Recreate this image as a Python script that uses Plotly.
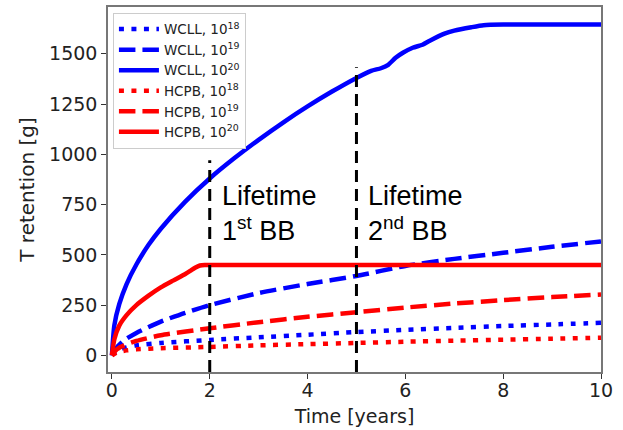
import plotly.graph_objects as go

# ---- data ----
t_wcll20 = [0, 0.05, 0.15, 0.3, 0.5, 0.75, 1.0, 1.5, 2.0, 2.5, 3.0, 3.5, 4.0, 4.5, 5.0, 5.3, 5.5, 5.65, 5.8, 5.95, 6.15, 6.35, 6.5, 6.8, 7.0, 7.35, 7.6, 8.0, 9.0, 10.0]
v_wcll20 = [0, 150, 255, 355, 452, 550, 630, 765, 880, 980, 1072, 1158, 1238, 1312, 1380, 1415, 1428, 1445, 1480, 1505, 1530, 1545, 1565, 1600, 1615, 1632, 1642, 1645, 1645, 1645]

t_wcll19 = [0, 0.1, 0.25, 0.5, 1, 1.5, 2, 3, 4, 5, 6, 7, 8, 9, 10]
v_wcll19 = [0, 40, 75, 112, 168, 212, 250, 310, 355, 395, 445, 480, 510, 540, 567]

t_wcll18 = [0, 0.1, 0.3, 0.5, 1, 2, 3, 4, 5, 6, 7, 8, 9, 10]
v_wcll18 = [0, 25, 40, 50, 62, 77, 90, 103, 116, 127, 137, 146, 154, 162]

t_hcpb20 = [0, 0.05, 0.15, 0.3, 0.5, 0.75, 1.0, 1.25, 1.5, 1.6, 1.7, 1.8, 1.9, 2.0, 5.0, 10.0]
v_hcpb20 = [0, 80, 148, 200, 250, 297, 338, 372, 405, 420, 436, 447, 450, 450, 450, 450]

t_hcpb19 = [0, 0.1, 0.25, 0.5, 1, 2, 3, 4, 5, 6, 7, 8, 9, 10]
v_hcpb19 = [0, 30, 50, 72, 100, 135, 165, 192, 215, 238, 258, 275, 290, 303]

t_hcpb18 = [0, 0.1, 0.3, 0.5, 1, 2, 3, 4, 5, 6, 7, 8, 9, 10]
v_hcpb18 = [0, 15, 25, 30, 36, 42, 50, 56, 62, 68, 73, 78, 83, 88]

lifetimes = [2, 5]
lifetime_tops = [0.58, 0.835]   # fraction of axis height
lifetime_labels = ["Lifetime<br>1<sup>st</sup> BB", "Lifetime<br>2<sup>nd</sup> BB"]

series = [
    ("WCLL, 10<sup>18</sup>", t_wcll18, v_wcll18, "#0000ff", "5px,7.5px"),
    ("WCLL, 10<sup>19</sup>", t_wcll19, v_wcll19, "#0000ff", "16.5px,7px"),
    ("WCLL, 10<sup>20</sup>", t_wcll20, v_wcll20, "#0000ff", "solid"),
    ("HCPB, 10<sup>18</sup>", t_hcpb18, v_hcpb18, "#ff0000", "5px,7.5px"),
    ("HCPB, 10<sup>19</sup>", t_hcpb19, v_hcpb19, "#ff0000", "16.5px,7px"),
    ("HCPB, 10<sup>20</sup>", t_hcpb20, v_hcpb20, "#ff0000", "solid"),
]

fig = go.Figure()
for name, t, v, col, dash in series:
    fig.add_trace(go.Scatter(x=t, y=v, mode="lines", name=name,
                             line=dict(color=col, width=4.5, dash=dash, shape="spline", smoothing=0.6)))

for x, top, lab in zip(lifetimes, lifetime_tops, lifetime_labels):
    fig.add_shape(type="line", xref="x", yref="y domain", x0=x, x1=x, y0=0, y1=top,
                  line=dict(color="black", width=3, dash="12px,7px"))
    fig.add_annotation(x=x + 0.2, y=707, xref="x", yref="y", text=lab, showarrow=False,
                       xanchor="left", yanchor="middle", align="left",
                       font=dict(family="Liberation Sans, Arial", size=27, color="black"))

axis_common = dict(showline=True, mirror=True, linecolor="#777", linewidth=1.5,
                   ticks="outside", ticklen=5, tickwidth=1.2, tickcolor="#333",
                   showgrid=False, zeroline=False,
                   tickfont=dict(family="DejaVu Sans", size=19, color="#222"))

fig.update_xaxes(range=[-0.08, 10], tickvals=[0, 2, 4, 6, 8, 10], ticklabelstandoff=-5,
                 title=dict(text="Time [years]", font=dict(family="DejaVu Sans", size=19, color="#222"), standoff=10),
                 **axis_common)
fig.update_yaxes(range=[-82.5, 1732.5], tickvals=[0, 250, 500, 750, 1000, 1250, 1500],
                 title=dict(text="T retention [g]", font=dict(family="DejaVu Sans", size=20, color="#222"), standoff=9),
                 **axis_common)

fig.update_layout(
    width=623, height=430,
    margin=dict(l=108, r=22, t=7, b=58, autoexpand=False),
    plot_bgcolor="white", paper_bgcolor="white",
    legend=dict(x=0.01, y=0.984, xanchor="left", yanchor="top",
                bgcolor="white", bordercolor="#ccc", borderwidth=1, itemwidth=40,
                font=dict(family="DejaVu Sans", size=13.5, color="#222")),
)

fig.write_html("out.html", config={"displayModeBar": False},
               post_script="document.body.style.margin='0';document.body.style.padding='0';")
